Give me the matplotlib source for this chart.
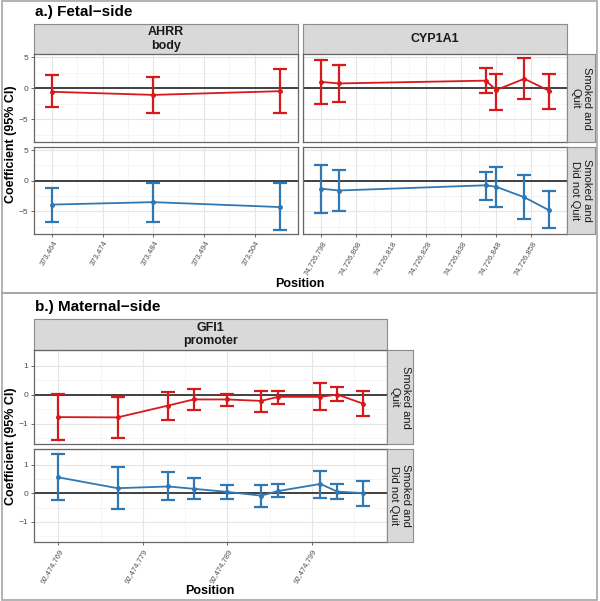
import numpy as np
import matplotlib
matplotlib.use("Agg")
import matplotlib.pyplot as plt
from matplotlib.patches import Rectangle

plt.rcParams['font.family'] = ['Liberation Sans', 'DejaVu Sans']

# ---- data ----
ahrr_pos = [373464, 373484, 373509]
ahrr_quit = [-0.6, -1.1, -0.5]
ahrr_quit_lo = [-3.1, -4.0, -4.1]
ahrr_quit_hi = [2.1, 1.8, 3.0]
ahrr_noquit = [-3.9, -3.5, -4.3]
ahrr_noquit_lo = [-6.8, -6.7, -8.1]
ahrr_noquit_hi = [-1.2, -0.3, -0.4]

cyp_pos = [74726798, 74726803, 74726845, 74726848, 74726856, 74726863]
cyp_quit = [1.0, 0.75, 1.2, -0.3, 1.5, -0.4]
cyp_quit_lo = [-2.6, -2.3, -0.85, -3.6, -1.8, -3.3]
cyp_quit_hi = [4.5, 3.75, 3.2, 2.3, 4.8, 2.2]
cyp_noquit = [-1.3, -1.6, -0.75, -1.0, -2.7, -4.8]
cyp_noquit_lo = [-5.2, -4.9, -3.2, -4.3, -6.2, -7.8]
cyp_noquit_hi = [2.5, 1.8, 1.4, 2.3, 0.9, -1.7]

gfi_pos = [92474769, 92474776, 92474782, 92474785, 92474789,
           92474793, 92474795, 92474800, 92474802, 92474805]
gfi_quit = [-0.77, -0.78, -0.37, -0.16, -0.16, -0.21, -0.07, -0.07, 0.01, -0.30]
gfi_quit_lo = [-1.55, -1.48, -0.86, -0.51, -0.39, -0.61, -0.33, -0.53, -0.23, -0.73]
gfi_quit_hi = [0.02, -0.07, 0.10, 0.19, 0.03, 0.14, 0.12, 0.40, 0.26, 0.14]
gfi_noquit = [0.56, 0.18, 0.24, 0.16, 0.05, -0.08, 0.08, 0.33, 0.06, 0.01]
gfi_noquit_lo = [-0.24, -0.55, -0.24, -0.21, -0.18, -0.47, -0.13, -0.15, -0.21, -0.45]
gfi_noquit_hi = [1.39, 0.91, 0.75, 0.53, 0.28, 0.30, 0.34, 0.79, 0.33, 0.42]

ahrr_ticks = [373464, 373474, 373484, 373494, 373504]
cyp_ticks = [74726798, 74726808, 74726818, 74726828, 74726838, 74726848, 74726858]
gfi_ticks = [92474769, 92474779, 92474789, 92474799]

row_labels = ['Smoked and\nQuit', 'Smoked and\nDid not Quit']
RED = '#D7191C'
BLUE = '#2F78B4'

W, H = 600, 601
fig = plt.figure(figsize=(W / 100, H / 100), dpi=100)


def px_axes(x0, y0, x1, y1):
    return fig.add_axes([x0 / W, 1 - y1 / H, (x1 - x0) / W, (y1 - y0) / H])


def strip(x0, y0, x1, y1, text, bold=True, rotate=False, size=9):
    ax = px_axes(x0, y0, x1, y1)
    ax.set_xticks([])
    ax.set_yticks([])
    ax.set_facecolor('#D9D9D9')
    for s in ax.spines.values():
        s.set_color('#8C8C8C')
        s.set_linewidth(0.8)
    ax.text(0.5, 0.5, text, ha='center', va='center', transform=ax.transAxes,
            fontsize=size, fontweight='bold' if bold else 'normal',
            rotation=-90 if rotate else 0, linespacing=1.15, color='#1A1A1A')


def facet(box, pos, est, lo, hi, color, ylim, yticks, yminor, xticks,
          show_x, show_y, xminor_step=5):
    ax = px_axes(*box)
    pos = np.array(pos, dtype=float)
    est = np.array(est)
    lo = np.array(lo)
    hi = np.array(hi)
    rng = pos.max() - pos.min()
    pad = 0.08 * rng
    ax.set_xlim(pos.min() - pad, pos.max() + pad)
    ax.set_ylim(*ylim)
    # grid
    xminor = np.arange(xticks[0] - xminor_step, xticks[-1] + 2 * xminor_step, 2 * xminor_step)
    for v in xminor:
        ax.axvline(v, color='#F2F2F2', lw=0.5, zorder=0)
    for v in yminor:
        ax.axhline(v, color='#F2F2F2', lw=0.5, zorder=0)
    for v in xticks:
        ax.axvline(v, color='#E6E6E6', lw=0.8, zorder=0)
    for v in yticks:
        ax.axhline(v, color='#E6E6E6', lw=0.8, zorder=0)
    ax.axhline(0, color='#333333', lw=1.3, zorder=1)
    ax.errorbar(pos, est, yerr=[est - lo, hi - est], fmt='none', ecolor=color,
                elinewidth=1.6, capsize=5.3, capthick=1.6, zorder=3)
    ax.plot(pos, est, color=color, lw=1.3, marker='o', ms=2.5, zorder=4)
    ax.set_xticks(xticks)
    ax.set_yticks(yticks)
    if show_x:
        ax.set_xticklabels([f'{v:,}' for v in xticks], rotation=60, ha='right',
                           rotation_mode='anchor', fontsize=5.5, color='#4D4D4D')
    else:
        ax.set_xticklabels([])
    if show_y:
        ax.set_yticklabels([f'{v:g}'.replace('-', '\u2212') for v in yticks],
                           fontsize=6, color='#4D4D4D')
    else:
        ax.set_yticklabels([])
    ax.tick_params(length=2.5, width=0.6, color='#4D4D4D', pad=1.5)
    if not show_y:
        ax.tick_params(axis='y', length=0)
    if not show_x:
        ax.tick_params(axis='x', length=0)
    for s in ax.spines.values():
        s.set_color('#666666')
        s.set_linewidth(0.9)
    return ax


# outer frames
for y0, y1 in [(1, 293), (293, 600)]:
    fig.patches.append(Rectangle((2 / W, 1 - y1 / H), 595 / W, (y1 - y0) / H,
                                 transform=fig.transFigure, fill=False,
                                 edgecolor='#A6A6A6', lw=1.2))

# ---- panel a ----
fig.text(35 / W, 1 - 12 / H, 'a.) Fetal\u2212side', fontsize=11, fontweight='bold',
         va='center', ha='left')
ylim_a = (-8.7, 5.5)
yt_a = [-5, 0, 5]
ym_a = [-7.5, -2.5, 2.5]
strip(34, 24, 298, 54, 'AHRR\nbody')
strip(303, 24, 567, 54, 'CYP1A1')
facet((34, 54, 298, 142), ahrr_pos, ahrr_quit, ahrr_quit_lo, ahrr_quit_hi, RED,
      ylim_a, yt_a, ym_a, ahrr_ticks, False, True)
facet((34, 147, 298, 234), ahrr_pos, ahrr_noquit, ahrr_noquit_lo, ahrr_noquit_hi, BLUE,
      ylim_a, yt_a, ym_a, ahrr_ticks, True, True)
facet((303, 54, 567, 142), cyp_pos, cyp_quit, cyp_quit_lo, cyp_quit_hi, RED,
      ylim_a, yt_a, ym_a, cyp_ticks, False, False)
facet((303, 147, 567, 234), cyp_pos, cyp_noquit, cyp_noquit_lo, cyp_noquit_hi, BLUE,
      ylim_a, yt_a, ym_a, cyp_ticks, True, False)
strip(567, 54, 595, 142, row_labels[0], bold=False, rotate=True, size=8)
strip(567, 147, 595, 234, row_labels[1], bold=False, rotate=True, size=8)
fig.text(11 / W, 1 - 144 / H, 'Coefficient (95% CI)', rotation=90, fontsize=9,
         fontweight='bold', ha='center', va='center')
fig.text(300 / W, 1 - 284 / H, 'Position', fontsize=9, fontweight='bold',
         ha='center', va='center')

# ---- panel b ----
fig.text(35 / W, 1 - 307 / H, 'b.) Maternal\u2212side', fontsize=11, fontweight='bold',
         va='center', ha='left')
ylim_b = (-1.7, 1.55)
yt_b = [-1, 0, 1]
ym_b = [-1.5, -0.5, 0.5, 1.5]
strip(34, 319, 387, 350, 'GFI1\npromoter')
facet((34, 350, 387, 444), gfi_pos, gfi_quit, gfi_quit_lo, gfi_quit_hi, RED,
      ylim_b, yt_b, ym_b, gfi_ticks, False, True)
facet((34, 449, 387, 542), gfi_pos, gfi_noquit, gfi_noquit_lo, gfi_noquit_hi, BLUE,
      ylim_b, yt_b, ym_b, gfi_ticks, True, True)
strip(387, 350, 413, 444, row_labels[0], bold=False, rotate=True, size=8)
strip(387, 449, 413, 542, row_labels[1], bold=False, rotate=True, size=8)
fig.text(11 / W, 1 - 446 / H, 'Coefficient (95% CI)', rotation=90, fontsize=9,
         fontweight='bold', ha='center', va='center')
fig.text(210 / W, 1 - 591 / H, 'Position', fontsize=9, fontweight='bold',
         ha='center', va='center')

fig.savefig('out.png', dpi=100, facecolor='white')
